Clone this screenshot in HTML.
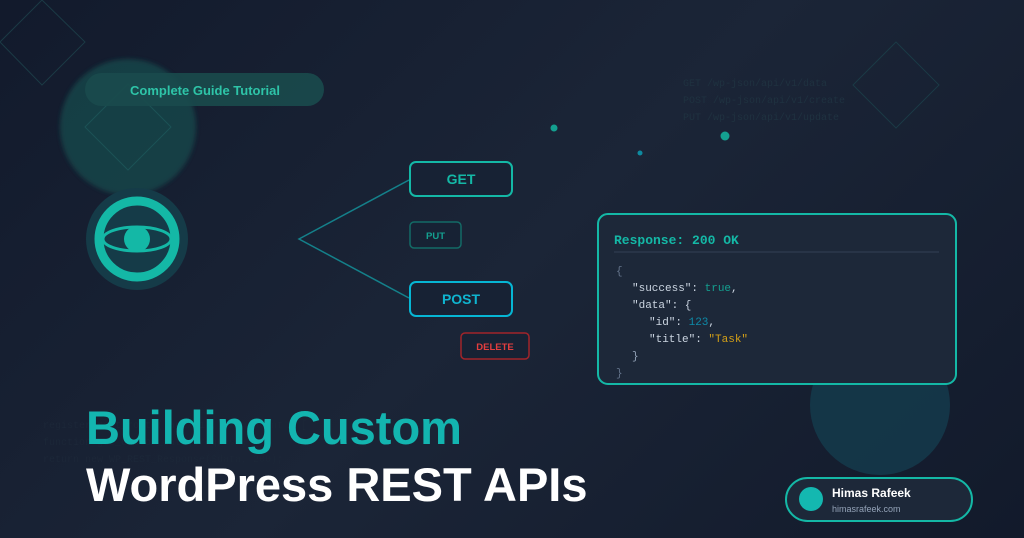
<!DOCTYPE html>
<html><head><style>
html,body{margin:0;padding:0}
body{width:1024px;height:538px;overflow:hidden;background:linear-gradient(135deg,#121a2c 0%,#1b2537 50%,#121a2b 100%);font-family:"Liberation Sans",sans-serif;position:relative}
</style></head><body>
<svg width="1024" height="538" style="position:absolute;left:0;top:0">
<defs><filter id="b"><feGaussianBlur stdDeviation="2"/></filter></defs>
<polygon points="0,42 42,0 85,42 42,85" fill="none" stroke="#1b3a45" stroke-width="1"/>
<circle cx="128" cy="127" r="68" fill="#17454a" opacity="0.85" filter="url(#b)"/>
<polygon points="85,127 128,84 171,127 128,170" fill="none" stroke="#1c5256" stroke-width="1"/>
<rect x="85" y="73" width="239" height="33" rx="16.5" fill="#1a4a4d" opacity="0.9"/>
<text x="205" y="95" text-anchor="middle" font-family="Liberation Sans" font-weight="bold" font-size="13" fill="#2ec4a8">Complete Guide Tutorial</text>
<circle cx="137" cy="239" r="51" fill="#153b48"/>
<circle cx="137" cy="239" r="38" fill="none" stroke="#14b8a6" stroke-width="9"/>
<ellipse cx="137" cy="239" rx="34" ry="12" fill="none" stroke="#14b8a6" stroke-width="3"/>
<circle cx="137" cy="239" r="13" fill="#14b8a6"/>
<polyline points="409,180 299,239 409,298" fill="none" stroke="#14808a" stroke-width="1.5"/>
<rect x="410" y="162" width="102" height="34" rx="6" fill="#172234" stroke="#14b8a6" stroke-width="2"/>
<text x="461" y="184" text-anchor="middle" font-weight="bold" font-size="14" fill="#14b8a6">GET</text>
<rect x="410" y="222" width="51" height="26" rx="4" fill="#172234" stroke="#136b66" stroke-width="1.5"/>
<text x="435.5" y="239" text-anchor="middle" font-weight="bold" font-size="9.5" fill="#14a090">PUT</text>
<rect x="410" y="282" width="102" height="34" rx="6" fill="#172234" stroke="#06b6d4" stroke-width="2"/>
<text x="461" y="304" text-anchor="middle" font-weight="bold" font-size="14" fill="#0fb5d0">POST</text>
<rect x="461" y="333" width="68" height="26" rx="4" fill="#172234" stroke="#a1242a" stroke-width="1.5"/>
<text x="495" y="350" text-anchor="middle" font-weight="bold" font-size="9.5" fill="#e53e3e">DELETE</text>
<circle cx="554" cy="128" r="3.5" fill="#14a090"/>
<circle cx="640" cy="153" r="2.5" fill="#0e8aa0"/>
<circle cx="725" cy="136" r="4.5" fill="#14a090"/>
<g font-family="Liberation Mono" font-size="10" fill="#1f3240">
<text x="683" y="86">GET /wp-json/api/v1/data</text>
<text x="683" y="103">POST /wp-json/api/v1/create</text>
<text x="683" y="120">PUT /wp-json/api/v1/update</text>
</g>
<polygon points="853,85 896,42 939,85 896,128" fill="none" stroke="#1b3a45" stroke-width="1"/>
<circle cx="880" cy="405" r="70" fill="#14394a" opacity="0.9"/>
<rect x="598" y="214" width="358" height="170" rx="10" fill="#1d2839" stroke="#14b8a6" stroke-width="2"/>
<text x="614" y="244" font-family="Liberation Mono" font-weight="bold" font-size="13" fill="#14b8a6">Response: 200 OK</text>
<line x1="614" y1="252" x2="939" y2="252" stroke="#334155" stroke-width="1"/>
<g font-family="Liberation Mono" font-size="11" fill="#cbd5e1">
<text x="616" y="274" fill="#64748b">{</text>
<text x="632" y="291">"success": <tspan fill="#14a090">true</tspan>,</text>
<text x="632" y="308">"data": {</text>
<text x="649" y="325">"id": <tspan fill="#0e8aa8">123</tspan>,</text>
<text x="649" y="342">"title": <tspan fill="#d4a017">"Task"</tspan></text>
<text x="632" y="359" fill="#94a3b8">}</text>
<text x="616" y="376" fill="#64748b">}</text>
</g>
<g font-family="Liberation Mono" font-size="10" fill="#1c2738">
<text x="43" y="428">register_rest_route('api/v1', '/endpoint', [</text>
<text x="43" y="445">function get_custom_data($request) {</text>
<text x="43" y="462">return new WP_REST_Response($data, 200);</text>
</g>
<text x="86" y="444" font-weight="bold" font-size="47" fill="#13b5b0">Building Custom</text>
<text x="86" y="501" font-weight="bold" font-size="47" fill="#ffffff">WordPress REST APIs</text>
<rect x="786" y="478" width="186" height="43" rx="21.5" fill="#1d2839" stroke="#14b8a6" stroke-width="2"/>
<circle cx="811" cy="499" r="12" fill="#14b8b0"/>
<text x="832" y="497" font-weight="bold" font-size="12" fill="#ffffff">Himas Rafeek</text>
<text x="832" y="512" font-size="9" fill="#94a3b8">himasrafeek.com</text>
</svg>
</body></html>
